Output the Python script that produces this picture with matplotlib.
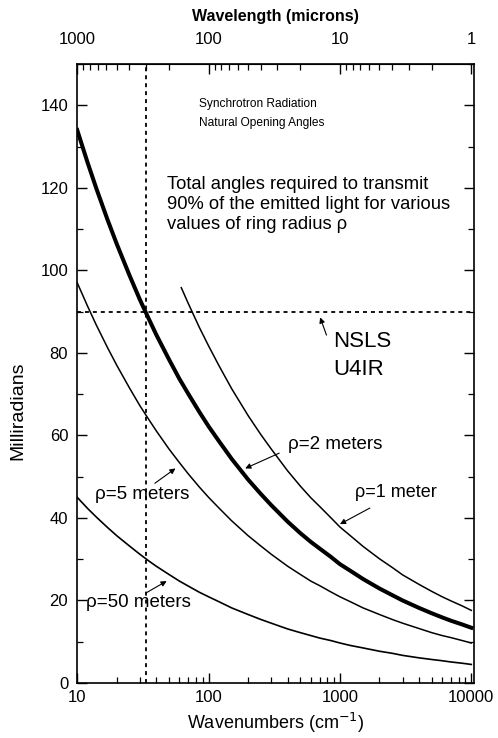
import matplotlib
matplotlib.use("Agg")
import matplotlib.pyplot as plt
from matplotlib.ticker import LogLocator, NullFormatter, FuncFormatter, MultipleLocator

plt.rcParams['font.family'] = ['Liberation Sans', 'DejaVu Sans']

# Data (wavenumber cm^-1 -> milliradians)
k_grid = [10, 12, 14, 17, 20, 25, 30, 35, 40, 50, 60, 70, 85, 100, 120, 150, 200, 250, 300,
          400, 500, 600, 700, 850, 1000, 1200, 1500, 2000, 2500, 3000, 4000, 5000, 6000,
          7000, 8500, 10000]

y_rho2 = [134, 126.1, 119.8, 112.3, 106.4, 98.8, 92.9, 88.3, 84.4, 78.4, 73.7, 70.1, 65.7,
          62.2, 58.6, 54.3, 49.3, 45.8, 43.1, 39.1, 36.3, 34.2, 32.6, 30.6, 28.8, 27.2,
          25.2, 22.9, 21.3, 20.0, 18.2, 16.9, 15.9, 15.1, 14.2, 13.4]

k_rho1 = [62, 70, 85, 100, 120, 150, 200, 250, 300, 400, 500, 600, 700, 850, 1000, 1200,
          1500, 2000, 2500, 3000, 4000, 5000, 6000, 7000, 8500, 10000]
y_rho1 = [95.8, 92.0, 86.2, 81.7, 76.9, 71.3, 64.8, 60.2, 56.7, 51.4, 47.7, 44.9, 42.8,
          40.1, 37.8, 35.7, 33.1, 30.1, 28.0, 26.2, 23.9, 22.2, 20.9, 19.9, 18.7, 17.6]

y_rho5 = [97, 91.3, 86.7, 81.3, 77.0, 71.5, 67.2, 63.9, 61.1, 56.7, 53.4, 50.7, 47.5, 45.0,
          42.4, 39.3, 35.7, 33.2, 31.2, 28.3, 26.3, 24.7, 23.6, 22.1, 20.9, 19.7, 18.2,
          16.6, 15.4, 14.5, 13.2, 12.2, 11.5, 11.0, 10.3, 9.7]

y_rho50 = [45, 42.3, 40.2, 37.7, 35.7, 33.2, 31.2, 29.6, 28.3, 26.3, 24.7, 23.5, 22.0, 20.9,
           19.7, 18.2, 16.6, 15.4, 14.5, 13.1, 12.2, 11.5, 10.9, 10.3, 9.7, 9.1, 8.5, 7.7,
           7.2, 6.7, 6.1, 5.7, 5.4, 5.1, 4.8, 4.5]

nsls_angle = 90        # horizontal dotted line (mrad)
nsls_k = 33.3          # vertical dotted line (cm^-1), 300 microns

x_ticks = [10, 100, 1000, 10000]
y_ticks = [0, 20, 40, 60, 80, 100, 120, 140]
top_ticks = [1000, 100, 10, 1]

fig = plt.figure(figsize=(4.98, 7.38), dpi=100)
ax = fig.add_axes([0.155, 0.0745, 0.797, 0.8388])

ax.plot(k_rho1, y_rho1, color='black', lw=1.1)
ax.plot(k_grid, y_rho2, color='black', lw=2.9)
ax.plot(k_grid, y_rho5, color='black', lw=1.1)
ax.plot(k_grid, y_rho50, color='black', lw=1.2)

ax.axhline(nsls_angle, color='black', lw=1.3, ls=(0, (2.2, 2.2)))
ax.axvline(nsls_k, color='black', lw=1.3, ls=(0, (2.2, 2.2)))

ax.set_xscale('log')
ax.set_xlim(10, 10500)
ax.set_ylim(0, 150)
ax.set_xticks(x_ticks)
ax.xaxis.set_major_formatter(FuncFormatter(lambda v, p: f"{int(round(v))}"))
ax.xaxis.set_minor_locator(LogLocator(base=10, subs=range(2, 10)))
ax.xaxis.set_minor_formatter(NullFormatter())
ax.set_yticks(y_ticks)
ax.yaxis.set_minor_locator(MultipleLocator(10))

ax.tick_params(axis='both', which='major', direction='in', length=7, width=1.0,
               labelsize=12, right=True, top=False)
ax.tick_params(axis='both', which='minor', direction='in', length=4, width=0.9,
               right=True, top=False)
ax.tick_params(axis='y', which='major', pad=6.5)
ax.tick_params(axis='x', which='major', pad=5)
for s in ax.spines.values():
    s.set_linewidth(1.2)

ax.set_xlabel('Wavenumbers (cm$^{-1}$)', fontsize=13, labelpad=4)
ax.set_ylabel('Milliradians', fontsize=14)
ax.yaxis.set_label_coords(-0.128, 0.44)

sec = ax.secondary_xaxis('top', functions=(lambda k: 10000.0 / k, lambda w: 10000.0 / w))
sec.set_xticks(top_ticks)
sec.xaxis.set_major_formatter(FuncFormatter(lambda v, p: f"{int(round(v))}"))
sec.xaxis.set_minor_locator(LogLocator(base=10, subs=range(2, 10)))
sec.xaxis.set_minor_formatter(NullFormatter())
sec.tick_params(axis='x', which='major', direction='in', length=7, width=1.0, labelsize=12, pad=12)
sec.tick_params(axis='x', which='minor', direction='in', length=4, width=0.9)
sec.set_xlabel('Wavelength (microns)', fontsize=11.5, fontweight='bold', labelpad=8.5)

# Texts
ax.text(0.307, 0.945, 'Synchrotron Radiation\nNatural Opening Angles', transform=ax.transAxes,
        fontsize=8.6, va='top', ha='left', linespacing=1.75)
ax.text(0.227, 0.819, 'Total angles required to transmit\n90% of the emitted light for various\nvalues of ring radius \u03c1',
        transform=ax.transAxes, fontsize=13.2, va='top', ha='left', linespacing=1.22)
ax.text(0.645, 0.569, 'NSLS\nU4IR', transform=ax.transAxes, fontsize=16, va='top', ha='left',
        linespacing=1.45)

arrow = dict(arrowstyle='-|>', color='black', lw=0.8, mutation_scale=8, shrinkA=0, shrinkB=0)
# (tip, tail) positions of the pointer arrows
ax.annotate('', xy=(707, 88.6), xytext=(790, 84.3), arrowprops=arrow)
ax.annotate('', xy=(190, 52.0), xytext=(345, 55.7), arrowprops=arrow)
ax.annotate('', xy=(1000, 38.5), xytext=(1690, 42.4), arrowprops=arrow)
ax.annotate('', xy=(56, 52.0), xytext=(39, 48.4), arrowprops=arrow)
ax.annotate('', xy=(48, 24.7), xytext=(33.3, 21.8), arrowprops=arrow)

ax.text(404, 57.9, '\u03c1=2 meters', fontsize=13.5, va='center', ha='left')
ax.text(1295, 46.2, '\u03c1=1 meter', fontsize=13, va='center', ha='left')
ax.text(13.7, 45.8, '\u03c1=5 meters', fontsize=13.5, va='center', ha='left')
ax.text(11.7, 19.4, '\u03c1=50 meters', fontsize=13.5, va='center', ha='left')

fig.savefig('out.png', dpi=100)
